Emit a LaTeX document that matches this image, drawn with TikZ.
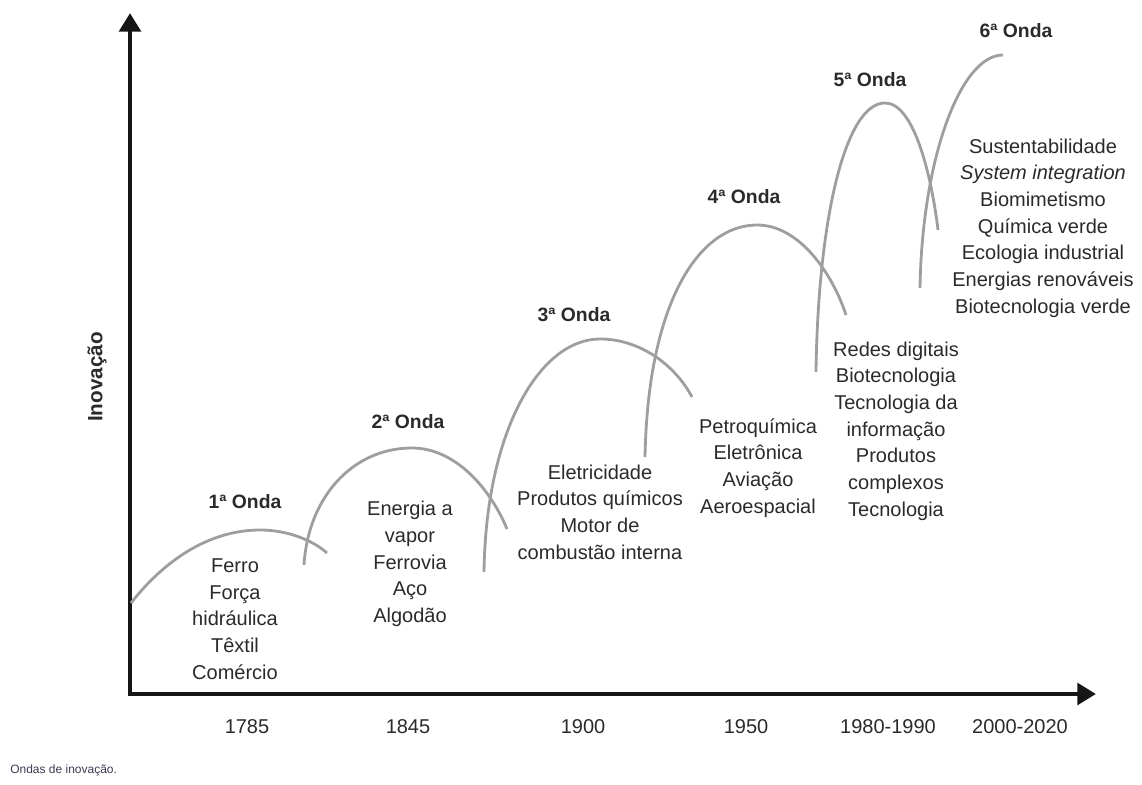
\documentclass[tikz,border=0pt]{standalone}
\usepackage{fontspec}
\setmainfont{Liberation Sans}
\usetikzlibrary{arrows.meta}
\definecolor{txt}{HTML}{2A2A2A}
\definecolor{wave}{HTML}{9E9E9E}
\definecolor{axis}{HTML}{161616}
\definecolor{capt}{HTML}{3A3A52}
\tikzset{
  axisline/.style={draw=axis, line width=3.6pt, -{Triangle[width=16pt,length=14pt]}},
  waveline/.style={draw=wave, line width=2.1pt},
  itemtext/.style={font=\fontsize{15}{20}\selectfont, text=txt, align=center, inner sep=0pt},
  ondatext/.style={font=\fontsize{14.5}{18}\selectfont\bfseries, text=txt, inner sep=0pt},
  yeartext/.style={font=\fontsize{15}{18}\selectfont, text=txt, inner sep=0pt},
}
\begin{document}
\begin{tikzpicture}[x=0.75pt,y=-0.75pt]
\useasboundingbox (0,0) rectangle (1142,785);
% axes
\coordinate (O) at (130,694);
\coordinate (ytip) at (130,13);
\coordinate (xtip) at (1096,694);
\draw[axisline] ([yshift=-1.8pt]O) -- (ytip);
\draw[axisline] ([xshift=-1.8pt]O) -- (xtip);
\node[font=\fontsize{15.5}{17}\selectfont\bfseries, text=txt, rotate=90, inner sep=0pt] (ylab) at (97,377) {Inovação};

% waves
\draw[waveline] (131,603) .. controls (168,556) and (213,530) .. (260,530) .. controls (290,530) and (315,542) .. (327,553);
\draw[waveline] (304,565) .. controls (308,498) and (352,448) .. (412,448) .. controls (455,448) and (490,488) .. (507,529);
\draw[waveline] (484,572) .. controls (486,430) and (540,339) .. (600,339) .. controls (640,339) and (675,365) .. (692,397);
\draw[waveline] (645,457) .. controls (648,300) and (700,225) .. (757,225) .. controls (800,225) and (833,275) .. (846,315);
\draw[waveline] (816,372) .. controls (818,220) and (845,103) .. (885,103) .. controls (915,103) and (932,180) .. (938,230);
\draw[waveline] (920,288) .. controls (922,160) and (960,55) .. (1003,55);

% wave titles
\node[ondatext] (o1) at (245,502) {1ª Onda};
\node[ondatext] (o2) at (408,422) {2ª Onda};
\node[ondatext] (o3) at (574,315) {3ª Onda};
\node[ondatext] (o4) at (744,197) {4ª Onda};
\node[ondatext] (o5) at (870,80) {5ª Onda};
\node[ondatext] (o6) at (1016,31) {6ª Onda};

% items
\node[itemtext] (t1) at (235,619) {Ferro\\Força\\hidráulica\\Têxtil\\Comércio};
\node[itemtext] (t2) at (410,564) {Energia a\\vapor\\Ferrovia\\Aço\\Algodão};
\node[itemtext] (t3) at (600,512) {Eletricidade\\Produtos químicos\\Motor de\\combustão interna};
\node[itemtext] (t4) at (758,468) {Petroquímica\\Eletrônica\\Aviação\\Aeroespacial};
\node[itemtext] (t5) at (896,431) {Redes digitais\\Biotecnologia\\Tecnologia da\\informação\\Produtos\\complexos\\Tecnologia};
\node[itemtext] (t6) at (1043,228) {Sustentabilidade\\\textit{System integration}\\Biomimetismo\\Química verde\\Ecologia industrial\\Energias renováveis\\Biotecnologia verde};

% years
\node[yeartext] (y1) at (247,727) {1785};
\node[yeartext] (y2) at (408,727) {1845};
\node[yeartext] (y3) at (583,727) {1900};
\node[yeartext] (y4) at (746,727) {1950};
\node[yeartext] (y5) at (888,727) {1980-1990};
\node[yeartext] (y6) at (1020,727) {2000-2020};

% caption
\node[font=\fontsize{9}{11}\selectfont, text=capt, anchor=west, inner sep=0pt] (cap) at (10,770) {Ondas de inovação.};
\end{tikzpicture}
\end{document}
